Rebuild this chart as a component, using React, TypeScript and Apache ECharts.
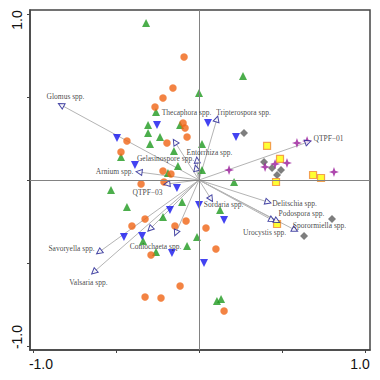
import React, { useEffect, useRef } from 'react';
import * as echarts from 'echarts';

const GREEN_TRIANGLES: [number, number][] = [
  [-0.319, 0.946], [0.265, 0.627], [0.0, 0.524], [-0.259, 0.41], [-0.307, 0.331],
  [-0.307, 0.283], [-0.235, 0.259], [-0.295, 0.217], [-0.47, 0.139], [-0.151, 0.175],
  [-0.127, 0.084], [-0.187, 0.042], [-0.114, 0.331], [0.018, 0.217], [0.018, 0.06],
  [0.211, -0.012], [-0.53, -0.06], [-0.434, -0.163], [-0.217, -0.223], [-0.102, -0.133],
  [-0.337, -0.367], [-0.259, -0.434], [-0.072, -0.398], [-0.012, -0.343], [0.127, -0.181],
  [0.108, -0.729], [0.133, -0.717],
];

const ORANGE_CIRCLES: [number, number][] = [
  [-0.09, 0.741], [-0.157, 0.554], [-0.217, 0.494], [-0.265, 0.44], [-0.096, 0.343],
  [-0.084, 0.313], [-0.072, 0.259], [-0.434, 0.235], [-0.193, 0.223], [-0.47, 0.169],
  [-0.217, 0.054], [-0.169, 0.036], [-0.349, -0.024], [-0.211, -0.012], [-0.404, -0.277],
  [-0.325, -0.235], [-0.145, -0.277], [-0.078, -0.247], [-0.289, -0.452], [-0.114, -0.639],
  [-0.325, -0.705], [-0.229, -0.711], [0.042, -0.289], [0.102, -0.416], [0.151, -0.789],
];

const BLUE_TRIANGLES: [number, number][] = [
  [-0.253, 0.331], [-0.494, 0.253], [-0.386, 0.09], [-0.133, -0.048], [0.054, 0.343],
  [0.223, 0.259], [-0.175, -0.181], [-0.452, -0.343], [-0.343, -0.337], [-0.163, -0.44],
  [0.0, -0.151], [0.151, -0.241], [0.03, -0.5],
];

const GRAY_DIAMONDS: [number, number][] = [
  [0.271, 0.283], [0.392, 0.108], [0.44, 0.072], [0.494, 0.06], [0.47, 0.03],
  [0.801, -0.235], [0.633, -0.337],
];

const YELLOW_SQUARES: [number, number][] = [
  [0.41, 0.205], [0.488, 0.127], [0.464, -0.012], [0.687, 0.03], [0.735, 0.012], [0.47, -0.265],
];

const PURPLE_STARS: [number, number][] = [
  [0.59, 0.223], [0.651, 0.235], [0.181, 0.06], [0.398, 0.078], [0.458, 0.096],
  [0.53, 0.102], [0.813, 0.048],
];

const ARROW_NAMES: string[] = [
  'Glomus spp.', 'Thecaphora spp.', 'Entorrhiza spp.', 'Gelasinospore spp.', 'Tripterospora spp.',
  'Arnium spp.', 'QTPF−03', 'Savoryella spp.', 'Valsaria spp.', 'Coniochaeta spp.', '',
  'Sordaria spp.', 'Delitschia spp.', 'Podospora spp.', 'Urocystis spp.', 'Sporormiella spp.', 'QTPF−01',
];

const ARROW_ENDS: [number, number][] = [
  [-0.831, 0.452], [-0.145, 0.229], [-0.012, 0.12], [-0.018, 0.072], [0.108, 0.367],
  [-0.361, 0.048], [-0.193, -0.024], [-0.602, -0.434], [-0.633, -0.554], [-0.295, -0.295], [-0.139, -0.319],
  [0.072, -0.114], [0.416, -0.133], [0.44, -0.241], [0.47, -0.247], [0.578, -0.301], [0.657, 0.229],
];

const LABEL_POS: [number, number][] = [
  [-0.801, 0.5], [-0.072, 0.404], [0.066, 0.163], [-0.199, 0.127], [0.271, 0.404],
  [-0.506, 0.048], [-0.307, -0.078], [-0.765, -0.416], [-0.663, -0.62], [-0.259, -0.404], [0, 0],
  [0.151, -0.151], [0.578, -0.145], [0.62, -0.205], [0.398, -0.319], [0.729, -0.277], [0.783, 0.247],
];

const AXIS_TICKS = [-1, -0.5, 0, 0.5, 1];
const AXIS_LABELS = [-1, 1];

const STAR = 'path://M0,-10 L2.6,-2.6 L10,0 L2.6,2.6 L0,10 L-2.6,2.6 L-10,0 L-2.6,-2.6 Z';

export default function App() {
  const ref = useRef<HTMLDivElement>(null);
  useEffect(() => {
    document.body.style.margin = '0';
    const chart = echarts.init(ref.current!, null, { renderer: 'svg' });
    const frame = '#444';
    const axisFont = { fontFamily: 'Liberation Sans', fontSize: 14, color: '#111' };
    chart.setOption({
      animation: false,
      backgroundColor: '#fff',
      grid: {
        left: 30, top: 10, width: 340, height: 340,
        show: true, borderColor: frame, borderWidth: 1.5, backgroundColor: 'transparent',
        containLabel: false, outerBoundsMode: 'none',
      },
      xAxis: {
        type: 'value', min: -1.018, max: 1.03,
        axisLine: { show: true, onZero: false, lineStyle: { color: frame, width: 1.5 } },
        axisTick: { show: true, inside: false, length: 3, customValues: AXIS_TICKS, lineStyle: { color: frame, width: 1 } },
        splitLine: { show: false },
        axisLabel: {
          show: true, customValues: AXIS_LABELS, margin: 7, hideOverlap: false,
          formatter: (v: number) => (v < 0 ? '{l|-1.0}' : '{r|1.0}'),
          rich: {
            l: { ...axisFont, padding: [0, 0, 0, 16] },
            r: { ...axisFont, padding: [0, 10, 0, 0] },
          },
          ...axisFont,
        },
      },
      yAxis: {
        type: 'value', min: -1.024, max: 1.024,
        axisLine: { show: true, onZero: false, lineStyle: { color: frame, width: 1.5 } },
        axisTick: { show: true, inside: false, length: 3, customValues: AXIS_TICKS, lineStyle: { color: frame, width: 1 } },
        splitLine: { show: false },
        axisLabel: {
          show: true, customValues: AXIS_LABELS, margin: 6, rotate: 90, hideOverlap: false,
          formatter: (v: number) => (v < 0 ? '{l|-1.0}' : '{r|1.0}'),
          rich: {
            l: { ...axisFont, padding: [0, 0, 0, 18] },
            r: { ...axisFont, padding: [0, 12, 0, 0] },
          },
          ...axisFont,
        },
      },
      series: [
        {
          type: 'scatter', data: [], z: 1, silent: true,
          markLine: {
            silent: true, symbol: 'none', animation: false,
            label: { show: false },
            lineStyle: { color: '#828282', width: 1, type: 'solid' },
            data: [{ xAxis: 0 }, { yAxis: 0 }],
          },
        },
        {
          type: 'lines', coordinateSystem: 'cartesian2d', z: 2, silent: true,
          lineStyle: { color: '#b4b4b4', width: 1, opacity: 1 },
          data: ARROW_ENDS.map((e) => ({ coords: [[0, 0], e] })),
        },
        {
          type: 'scatter', z: 3, symbol: 'triangle', symbolSize: 8,
          itemStyle: { color: '#1f9a1f' }, data: GREEN_TRIANGLES,
        },
        {
          type: 'scatter', z: 3, symbol: 'circle', symbolSize: 7.5,
          itemStyle: { color: '#f06414' }, data: ORANGE_CIRCLES,
        },
        {
          type: 'scatter', z: 3, symbol: 'triangle', symbolRotate: 180, symbolSize: 8,
          itemStyle: { color: '#1414ee' }, data: BLUE_TRIANGLES,
        },
        {
          type: 'scatter', z: 3, symbol: 'diamond', symbolSize: 8,
          itemStyle: { color: '#5e5e5e' }, data: GRAY_DIAMONDS,
        },
        {
          type: 'scatter', z: 3, symbol: 'rect', symbolSize: 7,
          itemStyle: { color: '#ffff00', borderColor: '#f08a3a', borderWidth: 1.2 }, data: YELLOW_SQUARES,
        },
        {
          type: 'scatter', z: 3, symbol: STAR, symbolSize: 10,
          itemStyle: { color: '#9a1a9a' }, data: PURPLE_STARS,
        },
        {
          type: 'scatter', z: 4, symbol: 'triangle', symbolSize: 6,
          symbolRotate: (v: number[]) => (Math.atan2(v[1], v[0]) * 180) / Math.PI - 90,
          itemStyle: { color: '#ffffff', borderColor: '#1c1c90', borderWidth: 1 },
          data: ARROW_ENDS,
        },
        {
          type: 'scatter', z: 5, symbol: 'circle', symbolSize: 1, silent: true,
          itemStyle: { color: 'transparent' },
          label: {
            show: true, position: [0, 0], align: 'center', verticalAlign: 'middle', formatter: '{b}',
            fontFamily: 'Liberation Serif', fontSize: 7.5, color: '#111111',
            textBorderWidth: 0, textBorderColor: 'transparent',
          },
          data: ARROW_NAMES.map((n, i) => ({ name: n, value: LABEL_POS[i] })).filter((d) => d.name !== ''),
        },
      ],
    });
    return () => chart.dispose();
  }, []);
  return <div ref={ref} style={{ width: 380, height: 380 }} />;
}
